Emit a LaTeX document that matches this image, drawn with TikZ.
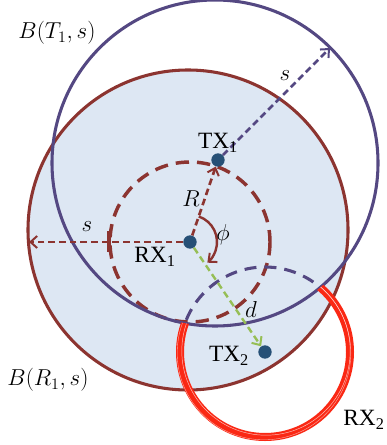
\documentclass[tikz,border=0pt]{standalone}
\usepackage{fontspec}
\setmainfont{Liberation Serif}
\usetikzlibrary{arrows.meta,calc}
\definecolor{brn}{RGB}{140,52,48}
\definecolor{prp}{RGB}{84,72,130}
\definecolor{fillb}{RGB}{221,231,243}
\definecolor{dotc}{RGB}{38,80,118}
\definecolor{grn}{RGB}{150,190,85}
\definecolor{redc}{RGB}{250,40,20}
\begin{document}
\begin{tikzpicture}[x=0.75pt,y=-0.75pt,
  dotn/.style={circle,fill=dotc,inner sep=0pt,minimum size=10pt},
  lbl/.style={inner sep=0pt,font=\fontsize{17.5}{20}\selectfont},
  outl/.style={line width=2.3pt},
  arrowhd/.style={-{Straight Barb[length=5pt,width=9pt,line width=1.5pt]}},
  bigdash/.style={line width=2.6pt,dash pattern=on 10pt off 6pt},
  smalldash/.style={line width=2pt,dash pattern=on 5pt off 3pt}]
\useasboundingbox (0,0) rectangle (386,445);
% centres
\coordinate (cR) at (188,230);
\coordinate (cT) at (215,163);
\coordinate (pRX1) at (190,242);
\coordinate (pTX1) at (218,160);
\coordinate (pTX2) at (265,352);
% shaded disc B(R1,s)
\fill[fillb] (cR) circle[radius=160];
% inner dashed circle of radius R
\draw[brn,bigdash] (pRX1) circle[radius=80];
% outlines
\draw[brn,outl] (cR) circle[radius=160];
\draw[prp,outl] (cT) circle[radius=163];
% part of the RX2 circle inside B(T1,s): dashed purple
\begin{scope}
  \clip (cT) circle[radius=162];
  \draw[prp,line width=2.3pt,dash pattern=on 9pt off 6pt] (pTX2) circle[radius=85];
\end{scope}
% part of the RX2 circle outside B(T1,s): red band
\begin{scope}[even odd rule]
  \clip (-10,-10) rectangle (400,460) (cT) circle[radius=163];
  \draw[redc,line width=6pt] (pTX2) circle[radius=85];
  \draw[white,opacity=0.7,line width=0.35pt] ($(pTX2)+(1,-1)$) circle[radius=84.2];
  \draw[white,opacity=0.6,line width=0.3pt] ($(pTX2)+(-1,1)$) circle[radius=86.8];
\end{scope}
% small tick on the left radius
\draw[brn,line width=2.3pt] (109,231) -- (109,252);
% nodes
\node[dotn] (rx1) at (pRX1) {};
\node[dotn] (tx1) at (pTX1) {};
\node[dotn] (tx2) at (pTX2) {};
\coordinate (lefttip) at (29,242);
\coordinate (toptip) at (330,48);
% connectors
\draw[brn,smalldash,arrowhd] (rx1) -- (lefttip);
\draw[prp,smalldash,arrowhd] (tx1) -- (toptip);
\draw[brn,smalldash,arrowhd] (rx1) -- (tx1);
\draw[grn,line width=1.8pt,dash pattern=on 5pt off 3pt,arrowhd] (rx1) -- (tx2);
\draw[brn,line width=1.8pt,arrowhd] ($(pRX1)+(-71:27)$) arc[start angle=-71,end angle=50,radius=27];
% labels
\node[lbl] (lT1) at (57,33) {$B(T_1,s)$};
\node[lbl] (lR1) at (48,380) {$B(R_1,s)$};
\node[lbl] (ls1) at (285,76) {$s$};
\node[lbl] (ls2) at (87,227) {$s$};
\node[lbl] (lR) at (191,199) {$R$};
\node[lbl] (lphi) at (223,235) {$\phi$};
\node[lbl] (ld) at (251,309) {$d$};
\node[lbl] (lTX1) at (218,143) {TX\textsubscript{1}};
\node[lbl] (lRX1) at (155,257) {RX\textsubscript{1}};
\node[lbl] (lTX2) at (229,356) {TX\textsubscript{2}};
\node[lbl] (lRX2) at (364,420) {RX\textsubscript{2}};
\end{tikzpicture}
\end{document}
